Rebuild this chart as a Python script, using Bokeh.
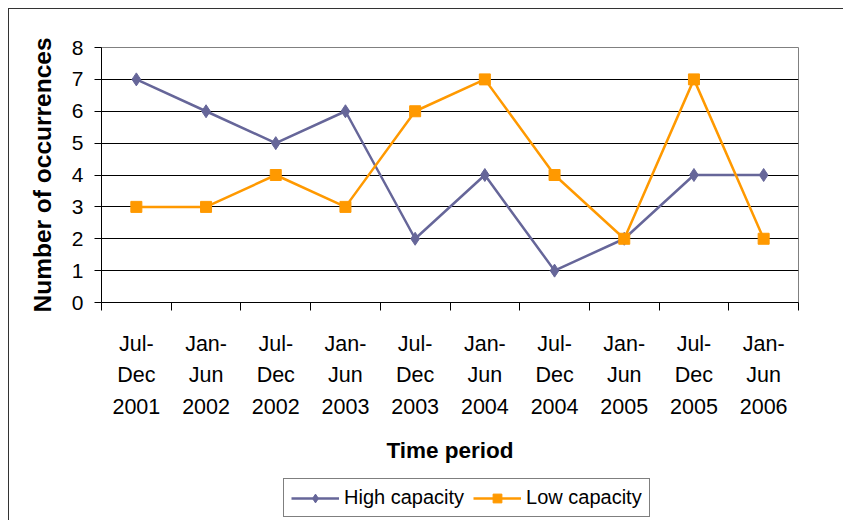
from bokeh.plotting import figure
from bokeh.models import Range1d, FixedTicker, Legend, LegendItem
from bokeh.layouts import column
from bokeh.embed import file_html
from bokeh.resources import INLINE

periods = ["Jul-\nDec\n2001", "Jan-\nJun\n2002", "Jul-\nDec\n2002", "Jan-\nJun\n2003",
           "Jul-\nDec\n2003", "Jan-\nJun\n2004", "Jul-\nDec\n2004", "Jan-\nJun\n2005",
           "Jul-\nDec\n2005", "Jan-\nJun\n2006"]
high_capacity = [7, 6, 5, 6, 2, 4, 1, 2, 4, 4]
low_capacity = [3, 3, 4, 3, 6, 7, 4, 2, 7, 2]
y_ticks = [0, 1, 2, 3, 4, 5, 6, 7, 8]
series_names = ["High capacity", "Low capacity"]

xs = [i + 0.5 for i in range(len(periods))]
FONT = "Liberation Sans"
BLUE = "#666699"
ORANGE = "#FF9900"

p = figure(width=834, height=466, output_backend="svg", toolbar_location=None,
           x_range=Range1d(0, len(periods)), y_range=Range1d(0, 8),
           min_border_left=92, min_border_right=45, min_border_top=38, min_border_bottom=173)

p.outline_line_color = "#808080"
p.outline_line_width = 1
p.background_fill_color = "white"
p.border_fill_color = "white"

# grids
p.xgrid.visible = False
p.ygrid.ticker = FixedTicker(ticks=y_ticks)
p.ygrid.grid_line_color = "black"
p.ygrid.grid_line_width = 1

# y axis
p.yaxis.ticker = FixedTicker(ticks=y_ticks)
p.yaxis.axis_line_color = "black"
p.yaxis.major_tick_line_color = "black"
p.yaxis.major_tick_out = 7
p.yaxis.major_tick_in = 0
p.yaxis.minor_tick_line_color = None
p.yaxis.major_label_standoff = 11
p.yaxis.major_label_text_font = FONT
p.yaxis.major_label_text_font_size = "21px"
p.yaxis.major_label_text_color = "black"
p.yaxis.axis_label = "Number of occurrences"
p.yaxis.axis_label_text_font = FONT
p.yaxis.axis_label_text_font_size = "24.5px"
p.yaxis.axis_label_text_font_style = "bold"
p.yaxis.axis_label_text_color = "black"
p.yaxis.axis_label_standoff = 13

# x axis
p.xaxis.ticker = FixedTicker(ticks=xs, minor_ticks=list(range(len(periods) + 1)))
p.xaxis.major_label_overrides = {x: lab for x, lab in zip(xs, periods)}
p.xaxis.axis_line_color = "black"
p.xaxis.major_tick_line_color = None
p.xaxis.major_tick_out = 8
p.xaxis.major_tick_in = 0
p.xaxis.minor_tick_line_color = "black"
p.xaxis.minor_tick_out = 8
p.xaxis.minor_tick_in = 0
p.xaxis.major_label_standoff = 21
p.xaxis.major_label_text_font = FONT
p.xaxis.major_label_text_font_size = "21.5px"
p.xaxis.major_label_text_line_height = 1.33
p.xaxis.major_label_text_color = "black"
p.xaxis.axis_label = "Time period"
p.xaxis.axis_label_text_font = FONT
p.xaxis.axis_label_text_font_size = "22.5px"
p.xaxis.axis_label_text_font_style = "bold"
p.xaxis.axis_label_text_color = "black"
p.xaxis.axis_label_standoff = 16

p.line(xs, high_capacity, line_color=BLUE, line_width=2.5)
p.scatter(xs, high_capacity, marker="diamond", size=13, fill_color=BLUE, line_color=BLUE)
p.line(xs, low_capacity, line_color=ORANGE, line_width=2.5)
p.scatter(xs, low_capacity, marker="square", size=11, fill_color=ORANGE, line_color=ORANGE)

# legend strip (its own small canvas so the legend box is not clipped);
# its series renderers sit outside its visible range, only the legend shows
lg = figure(width=834, height=45, output_backend="svg", toolbar_location=None,
            x_range=Range1d(0, len(periods)), y_range=Range1d(100, 101),
            x_axis_location=None, y_axis_location=None, min_border=0)
lg.grid.visible = False
lg.outline_line_color = None
lg.background_fill_color = "white"
lg.border_fill_color = "white"
k1a = lg.line(xs, high_capacity, line_color=BLUE, line_width=2.5)
k1b = lg.scatter(xs, high_capacity, marker="diamond", size=13, fill_color=BLUE, line_color=BLUE)
k2a = lg.line(xs, low_capacity, line_color=ORANGE, line_width=2.5)
k2b = lg.scatter(xs, low_capacity, marker="square", size=11, fill_color=ORANGE, line_color=ORANGE)

legend = Legend(items=[LegendItem(label=series_names[0], renderers=[k1a, k1b]),
                       LegendItem(label=series_names[1], renderers=[k2a, k2b])],
                location=(182, 3), orientation="horizontal")
legend.label_text_font = FONT
legend.label_text_font_size = "20px"
legend.label_text_color = "black"
legend.glyph_width = 48
legend.glyph_height = 22
legend.label_standoff = 5
legend.spacing = 9
legend.padding = 7
legend.margin = 0
legend.border_line_color = "black"
legend.border_line_width = 1
legend.background_fill_alpha = 1
lg.add_layout(legend, "center")

layout = column(p, lg, spacing=0, margin=(8, 0, 0, 8),
                styles={"border-left": "1px solid #333333", "border-top": "1px solid #333333"})

open("out.html", "w").write(file_html(layout, INLINE))
